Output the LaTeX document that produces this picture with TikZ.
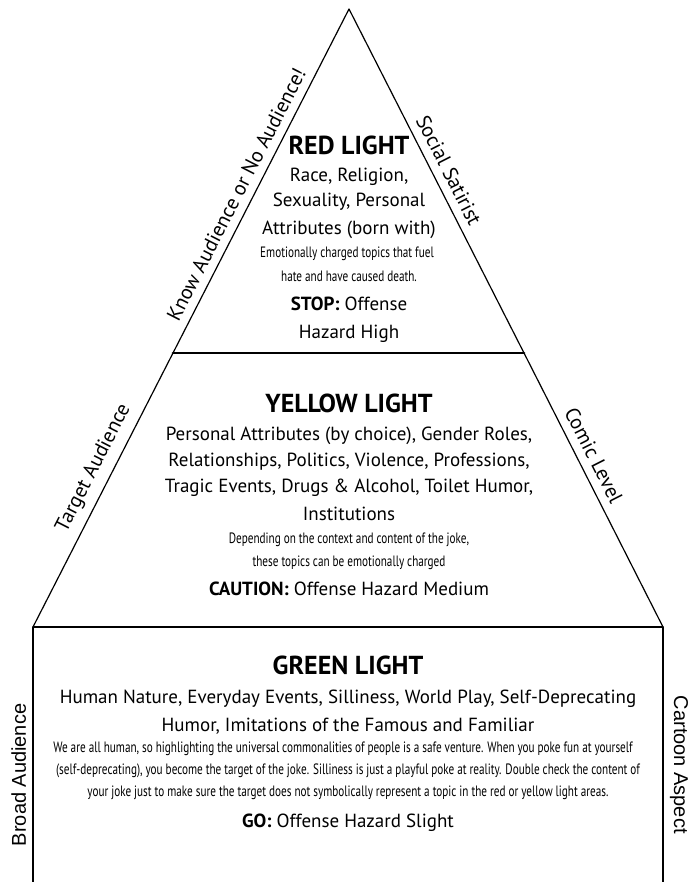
\documentclass[tikz,border=0pt]{standalone}
\usepackage{fontspec}
\setmainfont{PT Sans}
\newfontfamily\narrowfont[FakeStretch=0.745]{PT Sans}
\newfontfamily\arialfont{Liberation Sans}

\tikzset{
  heading/.style={anchor=base, inner sep=0pt, font=\fontsize{26}{30}\selectfont\bfseries},
  topic/.style={anchor=base, inner sep=0pt, font=\fontsize{19}{23}\selectfont},
  note/.style={anchor=base, inner sep=0pt, font=\narrowfont\fontsize{15}{18}\selectfont},
  sidelabel/.style={sloped, above=7pt, inner sep=1pt, font=\fontsize{20.5}{24}\selectfont},
  edgelabel/.style={sloped, above=5pt, inner sep=1pt, font=\arialfont\fontsize{20}{24}\selectfont},
  divider/.style={line width=2.8pt},
}

\begin{document}
\begin{tikzpicture}[line cap=round,line join=round,x=1pt,y=1pt]
\useasboundingbox (0, 0) rectangle (690, -882);

\coordinate (apex) at (349, -9);
\coordinate (yl) at (173, -353);
\coordinate (yr) at (524, -353);
\coordinate (gl) at (33, -627);
\coordinate (gr) at (663, -627);
\coordinate (bl) at (33, -882);
\coordinate (br) at (663, -882);

% pyramid sides
\draw[line width=1.2pt] (gl) -- node[sidelabel, pos=0.55] {Target Audience} (yl)
  -- node[sidelabel, pos=0.44] {Know Audience or No Audience!} (apex)
  -- node[sidelabel, pos=0.49] {Social Satirist} (yr)
  -- node[sidelabel, pos=0.40] {Comic Level} (gr);

% dividers
\draw[divider] (yl) -- (yr);
\draw[divider, line cap=butt] (gl) -- (gr);

% base box
\draw[line width=2pt] (bl) -- node[edgelabel, pos=0.42] {Broad Audience} (gl);
\draw[line width=2pt] (gr) -- node[edgelabel, pos=0.54] {Cartoon Aspect} (br);

% red light
\node[heading] (redhead) at (349, -155) {RED LIGHT};
\node[topic] (red1) at (349, -182) {Race, Religion,};
\node[topic] (red2) at (349, -207) {Sexuality, Personal};
\node[topic] (red3) at (349, -235) {Attributes (born with)};
\node[note] (red4) at (347, -258) {Emotionally charged topics that fuel};
\node[note] (red5) at (349, -281) {hate and have caused death.};
\node[topic] (red6) at (349, -310) {\textbf{STOP:} Offense};
\node[topic] (red7) at (349, -338) {Hazard High};

% yellow light
\node[heading] (yellowhead) at (349, -412) {YELLOW LIGHT};
\node[topic] (yellow1) at (349, -440) {Personal Attributes (by choice), Gender Roles,};
\node[topic] (yellow2) at (349, -466) {Relationships, Politics, Violence, Professions,};
\node[topic] (yellow3) at (349, -492) {Tragic Events, Drugs \& Alcohol, Toilet Humor,};
\node[topic] (yellow4) at (349, -520) {Institutions};
\node[note] (yellow5) at (349, -543) {Depending on the context and content of the joke,};
\node[note] (yellow6) at (349, -566) {these topics can be emotionally charged};
\node[topic] (yellow7) at (349, -595) {\textbf{CAUTION:} Offense Hazard Medium};

% green light
\node[heading] (greenhead) at (348, -674) {GREEN LIGHT};
\node[topic] (green1) at (348, -703) {Human Nature, Everyday Events, Silliness, World Play, Self-Deprecating};
\node[topic] (green2) at (348, -731) {Humor, Imitations of the Famous and Familiar};
\node[note] (green3) at (343, -752) {We are all human, so highlighting the universal commonalities of people is a safe venture. When you poke fun at yourself};
\node[note] (green4) at (348, -774) {(self-deprecating), you become the target of the joke. Silliness is just a playful poke at reality. Double check the content of};
\node[note] (green5) at (348, -796) {your joke just to make sure the target does not symbolically represent a topic in the red or yellow light areas.};
\node[topic] (green6) at (348, -827) {\textbf{GO:} Offense Hazard Slight};

\end{tikzpicture}
\end{document}
